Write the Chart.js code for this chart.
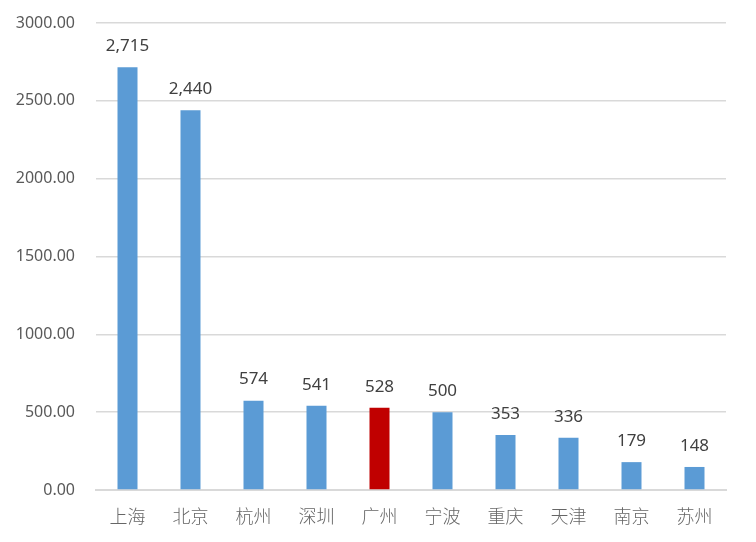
<!DOCTYPE html>
<html>
<head>
<meta charset="utf-8">
<script src="https://cdn.jsdelivr.net/npm/chart.js@4/dist/chart.umd.min.js"></script>
<style>
  html, body { margin: 0; padding: 0; background: #fff; }
  #wrap { width: 756px; height: 542px; position: relative; }
</style>
</head>
<body>
<div id="wrap"><canvas id="bar-1"></canvas></div>
<script>
const cities = ['上海', '北京', '杭州', '深圳', '广州', '宁波', '重庆', '天津', '南京', '苏州'];
const values = [2715, 2440, 574, 541, 528, 500, 353, 336, 179, 148];
const highlightCity = '广州';
const yTicks = [0, 500, 1000, 1500, 2000, 2500, 3000];

const barColors = cities.map(c => c === highlightCity ? '#C00000' : '#5B9BD5');

// draws the number above each bar
const valueLabels = {
    id: 'valueLabels',
    afterDatasetsDraw(chart) {
        const ctx = chart.ctx;
        const meta = chart.getDatasetMeta(0);
        ctx.save();
        ctx.font = '17px "Noto Sans", "Open Sans", sans-serif';
        ctx.fillStyle = '#404040';
        ctx.textAlign = 'center';
        ctx.textBaseline = 'middle';
        meta.data.forEach((bar, i) => {
            ctx.fillText(values[i].toLocaleString('en-US'), bar.x, bar.y - 21);
        });
        ctx.restore();
    }
};

new Chart(document.getElementById('bar-1'), {
    type: 'bar',
    data: {
        labels: cities,
        datasets: [{
            data: values,
            backgroundColor: barColors,
            hoverBackgroundColor: barColors,
            barPercentage: 0.635,
            categoryPercentage: 0.5
        }]
    },
    options: {
        responsive: true,
        maintainAspectRatio: false,
        animation: false,
        layout: {
            padding: { top: 23, right: 30, left: 0, bottom: 0 }
        },
        scales: {
            x: {
                grid: { display: false, drawTicks: false },
                border: { display: true, color: '#D9D9D9', width: 2 },
                ticks: {
                    color: '#666666',
                    padding: 15,
                    font: { size: 18, family: '"Noto Sans CJK SC", sans-serif', weight: 300 }
                },
                afterFit: function (scale) { scale.height = 52; }
            },
            y: {
                min: 0,
                max: 3000,
                afterBuildTicks: function (scale) {
                    scale.ticks = yTicks.map(v => ({ value: v }));
                },
                grid: { color: '#D9D9D9', lineWidth: 1.5, drawTicks: false },
                border: { display: false },
                ticks: {
                    color: '#595959',
                    padding: 21,
                    font: { size: 16, family: '"Noto Sans", "Open Sans", sans-serif' },
                    callback: function (v) { return v.toFixed(2); }
                },
                afterFit: function (scale) {
                    scale.width = 96;
                    scale.paddingTop = 0;
                    scale.paddingBottom = 0;
                }
            }
        },
        plugins: {
            legend: { display: false },
            tooltip: { enabled: false }
        }
    },
    plugins: [valueLabels]
});
</script>
</body>
</html>
